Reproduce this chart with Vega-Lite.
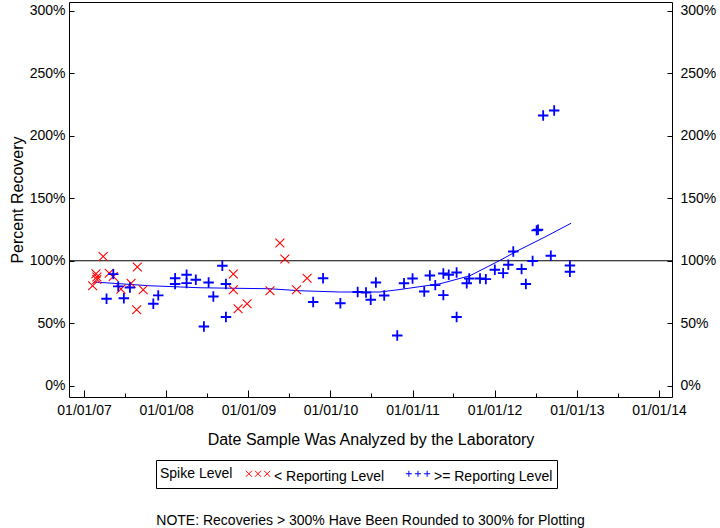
{
  "$schema": "https://vega.github.io/schema/vega-lite/v6.json",
  "width": 603,
  "height": 395,
  "autosize": {"type": "none"},
  "padding": {"left": 69, "top": 2, "right": 48, "bottom": 131},
  "background": "white",
  "title": {"text": "NOTE: Recoveries > 300% Have Been Rounded to 300% for Plotting", "orient": "bottom", "anchor": "middle", "offset": 25, "fontSize": 14, "font": "Liberation Sans", "fontWeight": "normal", "color": "black"},
  "config": {
    "view": {"stroke": "black", "strokeWidth": 1},
    "font": "Liberation Sans",
    "axis": {"grid": false, "domain": false, "labelFont": "Liberation Sans", "titleFont": "Liberation Sans", "labelColor": "black", "titleColor": "black", "tickColor": "black", "labelFontSize": 14, "titleFontSize": 16, "titleFontWeight": "normal"},
    "legend": {"labelFont": "Liberation Sans", "titleFont": "Liberation Sans"}
  },
  "resolve": {"axis": {"x": "independent"}},
  "layer": [
    {
      "data": {"values": [{"y": 100}]},
      "mark": {"type": "rule", "color": "black", "strokeWidth": 1},
      "encoding": {
        "y": {"field": "y", "type": "quantitative", "scale": {"domain": [-9, 307], "nice": false, "zero": false},
          "axis": {"orient": "left", "values": [0, 50, 100, 150, 200, 250, 300], "labelExpr": "datum.value + '%'", "tickSize": -5, "labelPadding": 9, "title": "Percent Recovery", "titlePadding": 4}}
      }
    },
    {
      "data": {"values": [
        {"date": "2007-02-14", "pct": 83},
        {"date": "2007-10-21", "pct": 80},
        {"date": "2008-05-31", "pct": 78.4},
        {"date": "2009-04-07", "pct": 77.6},
        {"date": "2009-08-18", "pct": 76},
        {"date": "2010-02-11", "pct": 75},
        {"date": "2010-08-09", "pct": 75},
        {"date": "2010-11-06", "pct": 77},
        {"date": "2011-05-03", "pct": 81.6},
        {"date": "2011-09-13", "pct": 88},
        {"date": "2012-01-11", "pct": 99},
        {"date": "2012-04-23", "pct": 109},
        {"date": "2012-08-12", "pct": 119},
        {"date": "2012-12-06", "pct": 130}
      ]},
      "mark": {"type": "line", "color": "#0000FF", "strokeWidth": 1},
      "encoding": {
        "x": {"field": "date", "type": "temporal", "scale": {"domain": [{"year": 2006, "month": 10, "date": 26}, {"year": 2014, "month": 2, "date": 28}]},
          "axis": {"orient": "bottom", "values": [{"year": 2007, "month": 7, "date": 1}, {"year": 2008, "month": 7, "date": 1}, {"year": 2009, "month": 7, "date": 1}, {"year": 2010, "month": 7, "date": 1}, {"year": 2011, "month": 7, "date": 1}, {"year": 2012, "month": 7, "date": 1}, {"year": 2013, "month": 7, "date": 1}], "labels": false, "tickSize": -4, "title": null}},
        "y": {"field": "pct", "type": "quantitative", "scale": {"domain": [-9, 307], "nice": false, "zero": false}, "axis": null}
      }
    },
    {
      "data": {"values": [
        {"date": "2007-02-08", "pct": 80.0, "level": "< Reporting Level"},
        {"date": "2007-02-23", "pct": 89.6, "level": "< Reporting Level"},
        {"date": "2007-02-27", "pct": 87.0, "level": "< Reporting Level"},
        {"date": "2007-02-27", "pct": 85.0, "level": "< Reporting Level"},
        {"date": "2007-03-27", "pct": 103.4, "level": "< Reporting Level"},
        {"date": "2007-04-23", "pct": 90.0, "level": "< Reporting Level"},
        {"date": "2007-05-11", "pct": 87.4, "level": "< Reporting Level"},
        {"date": "2007-06-14", "pct": 77.3, "level": "< Reporting Level"},
        {"date": "2007-07-29", "pct": 82.0, "level": "< Reporting Level"},
        {"date": "2007-08-26", "pct": 95.0, "level": "< Reporting Level"},
        {"date": "2007-08-23", "pct": 60.8, "level": "< Reporting Level"},
        {"date": "2007-09-21", "pct": 76.8, "level": "< Reporting Level"},
        {"date": "2008-10-26", "pct": 89.4, "level": "< Reporting Level"},
        {"date": "2008-10-26", "pct": 76.8, "level": "< Reporting Level"},
        {"date": "2008-11-16", "pct": 61.6, "level": "< Reporting Level"},
        {"date": "2008-12-26", "pct": 65.6, "level": "< Reporting Level"},
        {"date": "2009-04-07", "pct": 76.0, "level": "< Reporting Level"},
        {"date": "2009-05-21", "pct": 114.2, "level": "< Reporting Level"},
        {"date": "2009-06-12", "pct": 101.4, "level": "< Reporting Level"},
        {"date": "2009-08-03", "pct": 76.8, "level": "< Reporting Level"},
        {"date": "2009-09-19", "pct": 86.0, "level": "< Reporting Level"},
        {"date": "2007-04-11", "pct": 69.6, "level": ">= Reporting Level"},
        {"date": "2007-05-11", "pct": 89.3, "level": ">= Reporting Level"},
        {"date": "2007-06-02", "pct": 79.5, "level": ">= Reporting Level"},
        {"date": "2007-06-27", "pct": 70.0, "level": ">= Reporting Level"},
        {"date": "2007-07-24", "pct": 78.6, "level": ">= Reporting Level"},
        {"date": "2007-11-05", "pct": 65.6, "level": ">= Reporting Level"},
        {"date": "2007-11-27", "pct": 72.3, "level": ">= Reporting Level"},
        {"date": "2008-02-10", "pct": 86.0, "level": ">= Reporting Level"},
        {"date": "2008-02-10", "pct": 81.4, "level": ">= Reporting Level"},
        {"date": "2008-04-01", "pct": 88.8, "level": ">= Reporting Level"},
        {"date": "2008-04-01", "pct": 82.1, "level": ">= Reporting Level"},
        {"date": "2008-05-12", "pct": 84.8, "level": ">= Reporting Level"},
        {"date": "2008-06-17", "pct": 47.4, "level": ">= Reporting Level"},
        {"date": "2008-07-08", "pct": 82.6, "level": ">= Reporting Level"},
        {"date": "2008-07-29", "pct": 71.4, "level": ">= Reporting Level"},
        {"date": "2008-09-07", "pct": 96.0, "level": ">= Reporting Level"},
        {"date": "2008-09-23", "pct": 81.4, "level": ">= Reporting Level"},
        {"date": "2008-09-23", "pct": 55.0, "level": ">= Reporting Level"},
        {"date": "2009-10-16", "pct": 67.0, "level": ">= Reporting Level"},
        {"date": "2009-11-29", "pct": 86.0, "level": ">= Reporting Level"},
        {"date": "2010-02-14", "pct": 66.0, "level": ">= Reporting Level"},
        {"date": "2010-05-02", "pct": 75.0, "level": ">= Reporting Level"},
        {"date": "2010-06-08", "pct": 74.6, "level": ">= Reporting Level"},
        {"date": "2010-06-29", "pct": 68.8, "level": ">= Reporting Level"},
        {"date": "2010-07-22", "pct": 82.6, "level": ">= Reporting Level"},
        {"date": "2010-08-28", "pct": 72.2, "level": ">= Reporting Level"},
        {"date": "2010-10-25", "pct": 40.2, "level": ">= Reporting Level"},
        {"date": "2010-11-24", "pct": 82.0, "level": ">= Reporting Level"},
        {"date": "2011-01-01", "pct": 85.8, "level": ">= Reporting Level"},
        {"date": "2011-02-22", "pct": 75.4, "level": ">= Reporting Level"},
        {"date": "2011-03-19", "pct": 88.2, "level": ">= Reporting Level"},
        {"date": "2011-04-12", "pct": 80.5, "level": ">= Reporting Level"},
        {"date": "2011-05-18", "pct": 89.8, "level": ">= Reporting Level"},
        {"date": "2011-05-18", "pct": 72.5, "level": ">= Reporting Level"},
        {"date": "2011-06-11", "pct": 88.8, "level": ">= Reporting Level"},
        {"date": "2011-07-16", "pct": 90.6, "level": ">= Reporting Level"},
        {"date": "2011-07-16", "pct": 55.0, "level": ">= Reporting Level"},
        {"date": "2011-08-30", "pct": 82.0, "level": ">= Reporting Level"},
        {"date": "2011-09-10", "pct": 85.8, "level": ">= Reporting Level"},
        {"date": "2011-10-28", "pct": 85.8, "level": ">= Reporting Level"},
        {"date": "2011-11-23", "pct": 85.3, "level": ">= Reporting Level"},
        {"date": "2012-01-02", "pct": 92.8, "level": ">= Reporting Level"},
        {"date": "2012-02-08", "pct": 90.1, "level": ">= Reporting Level"},
        {"date": "2012-03-02", "pct": 96.8, "level": ">= Reporting Level"},
        {"date": "2012-03-24", "pct": 107.4, "level": ">= Reporting Level"},
        {"date": "2012-04-30", "pct": 93.4, "level": ">= Reporting Level"},
        {"date": "2012-05-19", "pct": 81.4, "level": ">= Reporting Level"},
        {"date": "2012-06-18", "pct": 99.8, "level": ">= Reporting Level"},
        {"date": "2012-07-06", "pct": 124.3, "level": ">= Reporting Level"},
        {"date": "2012-07-12", "pct": 124.8, "level": ">= Reporting Level"},
        {"date": "2012-08-04", "pct": 216.2, "level": ">= Reporting Level"},
        {"date": "2012-09-07", "pct": 104.0, "level": ">= Reporting Level"},
        {"date": "2012-09-22", "pct": 220.2, "level": ">= Reporting Level"},
        {"date": "2012-12-01", "pct": 96.2, "level": ">= Reporting Level"},
        {"date": "2012-12-01", "pct": 91.2, "level": ">= Reporting Level"}
      ]},
      "mark": {"type": "point", "filled": false, "opacity": 1, "size": 110},
      "encoding": {
        "x": {"field": "date", "type": "temporal", "scale": {"domain": [{"year": 2006, "month": 10, "date": 26}, {"year": 2014, "month": 2, "date": 28}]},
          "axis": {"orient": "bottom", "values": [{"year": 2007, "month": 1, "date": 1}, {"year": 2008, "month": 1, "date": 1}, {"year": 2009, "month": 1, "date": 1}, {"year": 2010, "month": 1, "date": 1}, {"year": 2011, "month": 1, "date": 1}, {"year": 2012, "month": 1, "date": 1}, {"year": 2013, "month": 1, "date": 1}, {"year": 2014, "month": 1, "date": 1}], "format": "%m/%d/%y", "tickSize": -7, "labelPadding": 13, "title": "Date Sample Was Analyzed by the Laboratory", "titlePadding": 14}},
        "y": {"field": "pct", "type": "quantitative", "scale": {"domain": [-9, 307], "nice": false, "zero": false},
          "axis": {"orient": "right", "values": [0, 50, 100, 150, 200, 250, 300], "labelExpr": "datum.value + '%'", "tickSize": -5, "labelPadding": 13, "title": null}},
        "color": {"field": "level", "type": "nominal", "title": "Spike Level",
          "scale": {"domain": ["< Reporting Level", ">= Reporting Level"], "range": ["#FF0000", "#0000FF"]},
          "legend": {"orient": "none", "legendX": 87, "legendY": 458, "direction": "horizontal", "titleOrient": "left", "titleFontSize": 14, "titleFontWeight": "normal", "titleColor": "black", "labelFontSize": 14, "labelColor": "black", "strokeColor": "black", "fillColor": "white", "padding": 4, "symbolSize": 625, "symbolStrokeWidth": 1, "symbolOpacity": 1, "labelOffset": 3, "columnPadding": 18, "titlePadding": 12,
            "symbolType": {"expr": "datum.value === '< Reporting Level' ? 'M-0.97,-0.5L-0.49,-0.02M-0.97,-0.02L-0.49,-0.5M-0.24,-0.5L0.24,-0.02M-0.24,-0.02L0.24,-0.5M0.49,-0.5L0.97,-0.02M0.49,-0.02L0.97,-0.5' : 'M-0.97,-0.26L-0.49,-0.26M-0.73,-0.5L-0.73,-0.02M-0.24,-0.26L0.24,-0.26M0,-0.5L0,-0.02M0.49,-0.26L0.97,-0.26M0.73,-0.5L0.73,-0.02'"},
            "encode": {"symbols": {"shape": {"value": {"expr": "datum.value === '< Reporting Level' ? 'M-0.97,-0.5L-0.49,-0.02M-0.97,-0.02L-0.49,-0.5M-0.24,-0.5L0.24,-0.02M-0.24,-0.02L0.24,-0.5M0.49,-0.5L0.97,-0.02M0.49,-0.02L0.97,-0.5' : 'M-0.97,-0.26L-0.49,-0.26M-0.73,-0.5L-0.73,-0.02M-0.24,-0.26L0.24,-0.26M0,-0.5L0,-0.02M0.49,-0.26L0.97,-0.26M0.73,-0.5L0.73,-0.02'"}}}}}},
        "shape": {"condition": {"test": "datum.level === '< Reporting Level'", "value": "M-0.85,-0.85L0.85,0.85M-0.85,0.85L0.85,-0.85"}, "value": "M-1,0L1,0M0,-1L0,1"},
        "strokeWidth": {"condition": {"test": "datum.level === '< Reporting Level'", "value": 1.1}, "value": 1.8}
      }
    }
  ]
}
